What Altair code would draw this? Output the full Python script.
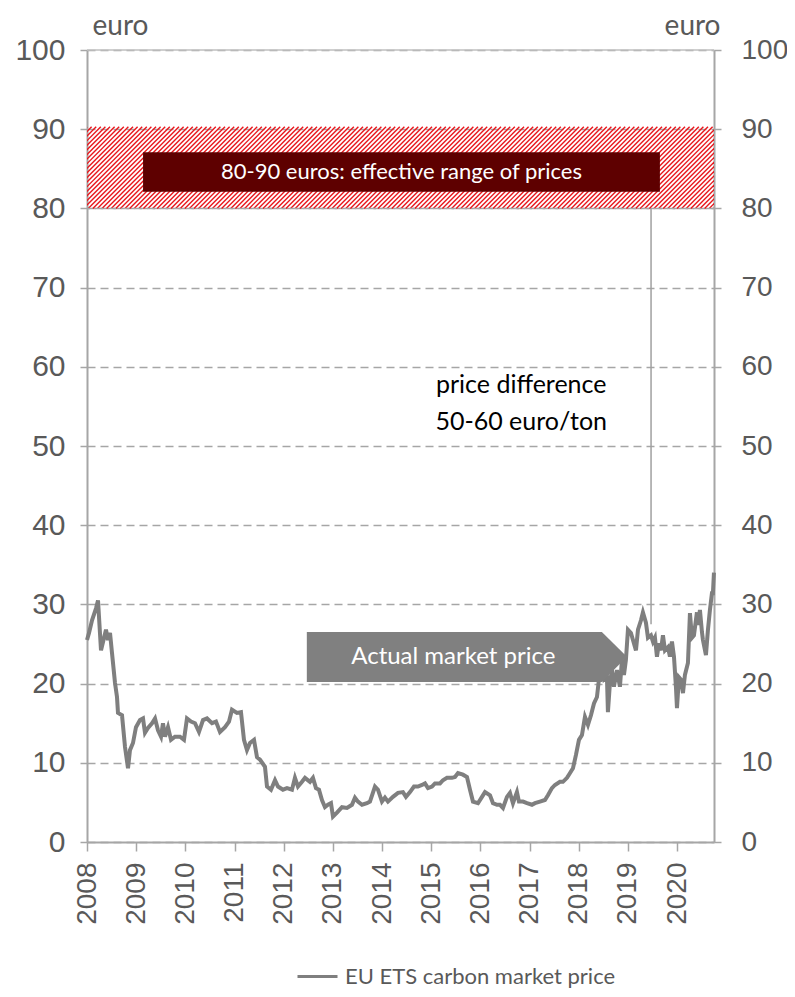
import altair as alt
import numpy as np
import pandas as pd

# ---- data ----
years = [2008.000, 2008.041, 2008.102, 2008.183, 2008.224, 2008.285, 2008.386, 2008.427, 2008.468, 2008.508,
         2008.569, 2008.610, 2008.630, 2008.712, 2008.773, 2008.834, 2008.874, 2008.935, 2008.996, 2009.078,
         2009.139, 2009.179, 2009.240, 2009.322, 2009.383, 2009.444, 2009.505, 2009.545, 2009.586, 2009.647,
         2009.708, 2009.789, 2009.891, 2009.972, 2010.033, 2010.115, 2010.196, 2010.277, 2010.359, 2010.440,
         2010.542, 2010.623, 2010.704, 2010.806, 2010.887, 2010.948, 2011.050, 2011.131, 2011.192, 2011.253,
         2011.314, 2011.396, 2011.457, 2011.518, 2011.619, 2011.660, 2011.741, 2011.823, 2011.884, 2011.985,
         2012.067, 2012.168, 2012.229, 2012.290, 2012.372, 2012.433, 2012.534, 2012.595, 2012.656, 2012.717,
         2012.778, 2012.839, 2012.900, 2012.961, 2013.002, 2013.083, 2013.185, 2013.287, 2013.388, 2013.449,
         2013.510, 2013.592, 2013.693, 2013.754, 2013.856, 2013.917, 2013.998, 2014.059, 2014.120, 2014.222,
         2014.324, 2014.425, 2014.486, 2014.568, 2014.649, 2014.730, 2014.812, 2014.873, 2014.934, 2015.015,
         2015.076, 2015.178, 2015.238, 2015.320, 2015.422, 2015.483, 2015.544, 2015.645, 2015.727, 2015.788,
         2015.849, 2015.951, 2016.032, 2016.093, 2016.195, 2016.256, 2016.337, 2016.398, 2016.459, 2016.540,
         2016.601, 2016.662, 2016.743, 2016.784, 2016.866, 2016.947, 2017.048, 2017.109, 2017.211, 2017.312,
         2017.373, 2017.454, 2017.516, 2017.617, 2017.678, 2017.760, 2017.800, 2017.882, 2017.943, 2018.004,
         2018.065, 2018.126, 2018.187, 2018.248, 2018.309, 2018.370, 2018.410, 2018.451, 2018.512, 2018.573,
         2018.593, 2018.634, 2018.675, 2018.715, 2018.776, 2018.837, 2018.878, 2018.919, 2018.959, 2019.000,
         2019.061, 2019.102, 2019.163, 2019.204, 2019.265, 2019.305, 2019.366, 2019.407, 2019.468, 2019.509,
         2019.549, 2019.590, 2019.630, 2019.671, 2019.712, 2019.753, 2019.814, 2019.854, 2019.895, 2019.936,
         2019.976, 2019.997, 2020.037, 2020.078, 2020.119, 2020.159, 2020.220, 2020.261, 2020.301, 2020.342,
         2020.403, 2020.423, 2020.464, 2020.505, 2020.525, 2020.586, 2020.627, 2020.667, 2020.708, 2020.728,
         2020.749]
prices = [25.5, 26.4, 28.0, 29.5, 30.5, 24.2, 26.8, 25.5, 26.4, 23.9,
          20.1, 18.3, 16.3, 16.0, 12.0, 9.3, 11.6, 12.5, 14.5, 15.4,
          15.6, 13.8, 14.4, 15.0, 15.6, 14.1, 13.3, 15.0, 13.3, 14.5,
          12.9, 13.3, 13.3, 12.9, 15.6, 15.2, 15.0, 13.9, 15.4, 15.6,
          15.0, 15.2, 13.9, 14.5, 15.2, 16.7, 16.3, 16.4, 12.9, 11.6,
          12.5, 12.9, 10.7, 10.4, 9.5, 7.0, 6.6, 7.8, 7.0, 6.6,
          6.8, 6.6, 8.1, 7.0, 7.6, 8.1, 7.6, 8.1, 6.8, 6.6,
          5.3, 4.4, 4.7, 4.9, 3.2, 3.7, 4.4, 4.3, 4.7, 5.6,
          5.1, 4.7, 4.9, 5.1, 7.0, 6.6, 5.1, 5.6, 5.1, 5.7,
          6.2, 6.3, 5.7, 6.3, 7.0, 7.0, 7.2, 7.4, 6.8, 7.0,
          7.4, 7.4, 7.8, 8.1, 8.1, 8.2, 8.7, 8.5, 8.2, 6.6,
          5.1, 4.9, 5.7, 6.3, 5.9, 4.9, 4.7, 4.7, 4.3, 5.7,
          6.2, 4.9, 6.3, 5.1, 5.1, 4.9, 4.7, 4.9, 5.1, 5.3,
          5.9, 6.8, 7.2, 7.6, 7.6, 8.1, 8.5, 9.3, 11.0, 12.9,
          13.5, 15.8, 14.8, 16.0, 17.5, 18.3, 20.5, 21.7, 20.5, 20.8,
          16.4, 20.1, 21.7, 19.6, 21.7, 19.6, 23.0, 21.1, 23.0, 26.8,
          26.4, 25.5, 24.2, 26.8, 28.0, 29.0, 27.7, 25.8, 26.1, 25.3,
          25.8, 23.4, 25.1, 24.2, 26.1, 24.2, 24.6, 23.4, 25.3, 23.4,
          19.6, 16.9, 20.8, 20.5, 18.8, 21.1, 22.6, 28.9, 25.8, 26.1,
          29.0, 27.4, 29.3, 26.5, 25.5, 23.6, 26.8, 29.3, 31.4, 31.4,
          34.0]
series_name = "EU ETS carbon market price"

year_ticks = list(range(2008, 2021))
value_ticks = list(range(0, 101, 10))
x_domain = [2008.0, 2020.75]
unit_label = "euro"

band_x = [2008.0, 2020.75]
band_y = [80.0, 90.3]
box_x = [2009.14, 2019.65]
box_y = [82.1, 87.1]
box_label = "80-90 euros: effective range of prices"

arrow_x = [2012.47, 2018.47, 2018.98]
arrow_top = [26.5, 26.5, 23.4]
arrow_bottom = [20.2, 20.2, 23.4]
arrow_label = "Actual market price"
arrow_label_pos = [2015.45, 23.3]

pointer_x = 2019.47
pointer_y = [80.0, 27.5]

diff_lines = ["price difference", "50-60 euro/ton"]
diff_x = 2016.83
diff_y = [57.7, 53.0]

# ---- styling ----
GRAY_TXT = "#595959"
AX = "#a6a6a6"
LINE = "#7f7f7f"
NUM_FONT = "Liberation Sans"
TXT_FONT = "Lato"
PLOT_W, PLOT_H = 627, 792

xs = alt.Scale(domain=x_domain, nice=False, zero=False)
ys = alt.Scale(domain=[0, 100], nice=False)

x_axis = alt.Axis(
    values=year_ticks, format="d", labelAngle=-90, labelFontSize=28, labelFont=NUM_FONT,
    labelColor=GRAY_TXT, labelPadding=11, tickSize=9, tickColor=AX, tickWidth=1.5,
    domainColor=AX, domainWidth=2, grid=False, title=None)

df = pd.DataFrame({"t": years, "price": prices, "series": series_name})

# hatching of the 80-90 band: thin diagonal strokes, clipped to the plot area
px_per_year = PLOT_W / (x_domain[1] - x_domain[0])
px_per_unit = PLOT_H / 100.0
slant = (band_y[1] - band_y[0]) * px_per_unit / px_per_year
step = 4.6 / px_per_year
starts = np.arange(band_x[0] - slant, band_x[1], step)
hatch_df = pd.DataFrame({"x": starts, "x2": starts + slant, "y": band_y[0], "y2": band_y[1]})
hatch = alt.Chart(hatch_df).mark_rule(color="#e8161c", strokeWidth=1.4, clip=True).encode(
    x=alt.X("x:Q", scale=xs, axis=x_axis), x2="x2:Q",
    y=alt.Y("y:Q", scale=ys, axis=alt.Axis(
        orient="right", values=value_ticks, grid=False, domainColor=AX, domainWidth=2,
        tickColor=AX, tickWidth=1.5, tickSize=7, labelPadding=20, labelFontSize=28,
        labelFont=NUM_FONT, labelColor=GRAY_TXT, labelAlign="left",
        title=unit_label, titleAngle=0, titleAlign="right", titleBaseline="alphabetic",
        titleX=6, titleY=-16, titleFont=TXT_FONT, titleFontSize=28,
        titleFontWeight="normal", titleColor=GRAY_TXT)),
    y2="y2:Q",
)

edge_df = pd.DataFrame({"y": [band_y[0]]})
grid80 = alt.Chart(edge_df).mark_rule(color=AX, strokeWidth=1.5, strokeDash=[8, 5]).encode(
    y=alt.Y("y:Q", scale=ys, axis=None))
top_df = pd.DataFrame({"y": [value_ticks[-1]]})
top_line = alt.Chart(top_df).mark_rule(color="#bfbfbf", strokeWidth=1.5).encode(
    y=alt.Y("y:Q", scale=ys, axis=None))

box_df = pd.DataFrame({"x": [box_x[0]], "x2": [box_x[1]], "y": [box_y[0]], "y2": [box_y[1]],
                       "xm": [(box_x[0] + box_x[1]) / 2], "ym": [(box_y[0] + box_y[1]) / 2],
                       "label": [box_label]})
box = alt.Chart(box_df).mark_rect(color="#5e0000").encode(
    x=alt.X("x:Q", scale=xs, axis=x_axis), x2="x2:Q",
    y=alt.Y("y:Q", scale=ys, axis=None), y2="y2:Q")
box_text = alt.Chart(box_df).mark_text(color="white", font=TXT_FONT, fontSize=22, baseline="middle").encode(
    x=alt.X("xm:Q", scale=xs, axis=x_axis), y=alt.Y("ym:Q", scale=ys, axis=None), text="label:N")

pointer_df = pd.DataFrame({"x": [pointer_x], "y": [pointer_y[0]], "y2": [pointer_y[1]]})
pointer = alt.Chart(pointer_df).mark_rule(color="#a0a0a0", strokeWidth=1.5).encode(
    x=alt.X("x:Q", scale=xs, axis=x_axis), y=alt.Y("y:Q", scale=ys, axis=None), y2="y2:Q")

line = alt.Chart(df).mark_line(strokeWidth=4).encode(
    x=alt.X("t:Q", scale=xs, axis=x_axis),
    y=alt.Y("price:Q", scale=ys, axis=alt.Axis(
        orient="left", values=value_ticks, grid=True, gridColor=AX, gridDash=[8, 5], gridWidth=1.5,
        domainColor=AX, domainWidth=2, tickColor=AX, tickWidth=1.5, tickSize=7, labelPadding=15,
        labelFontSize=30, labelFont=NUM_FONT, labelColor=GRAY_TXT,
        title=unit_label, titleAngle=0, titleAlign="left", titleBaseline="alphabetic",
        titleX=5, titleY=-16, titleFont=TXT_FONT, titleFontSize=28,
        titleFontWeight="normal", titleColor=GRAY_TXT)),
    color=alt.Color("series:N", scale=alt.Scale(range=[LINE]), legend=alt.Legend(
        orient="none", legendX=209, legendY=905, title=None, symbolType="stroke",
        symbolSize=1600, symbolStrokeWidth=3, labelFontSize=22, labelFont=TXT_FONT,
        labelColor=GRAY_TXT, labelOffset=6, labelLimit=0, padding=0)),
)

arrow_df = pd.DataFrame({"x": arrow_x, "y": arrow_top, "y2": arrow_bottom})
arrow = alt.Chart(arrow_df).mark_area(color="#808080", opacity=1, interpolate="linear").encode(
    x=alt.X("x:Q", scale=xs, axis=x_axis), y=alt.Y("y:Q", scale=ys, axis=None), y2="y2:Q")
arrow_text = alt.Chart(pd.DataFrame({"x": [arrow_label_pos[0]], "y": [arrow_label_pos[1]], "label": [arrow_label]})
                       ).mark_text(color="white", font=TXT_FONT, fontSize=24, baseline="middle").encode(
    x=alt.X("x:Q", scale=xs, axis=x_axis), y=alt.Y("y:Q", scale=ys, axis=None), text="label:N")

diff_df = pd.DataFrame({"x": [diff_x] * 2, "y": diff_y, "label": diff_lines})
diff_text = alt.Chart(diff_df).mark_text(color="black", font=TXT_FONT, fontSize=25, baseline="middle").encode(
    x=alt.X("x:Q", scale=xs, axis=x_axis), y=alt.Y("y:Q", scale=ys, axis=None), text="label:N")

chart = alt.layer(
    hatch, grid80, top_line, box, box_text, pointer, line, arrow, arrow_text, diff_text
).resolve_axis(y="independent").properties(
    width=PLOT_W, height=PLOT_H,
    padding={"left": 79, "top": 42, "right": 73, "bottom": 147},
    autosize=alt.AutoSizeParams(type="none"),
).configure_view(stroke=None)

chart.save("out.html", embed_options={"renderer": "svg", "actions": False})
